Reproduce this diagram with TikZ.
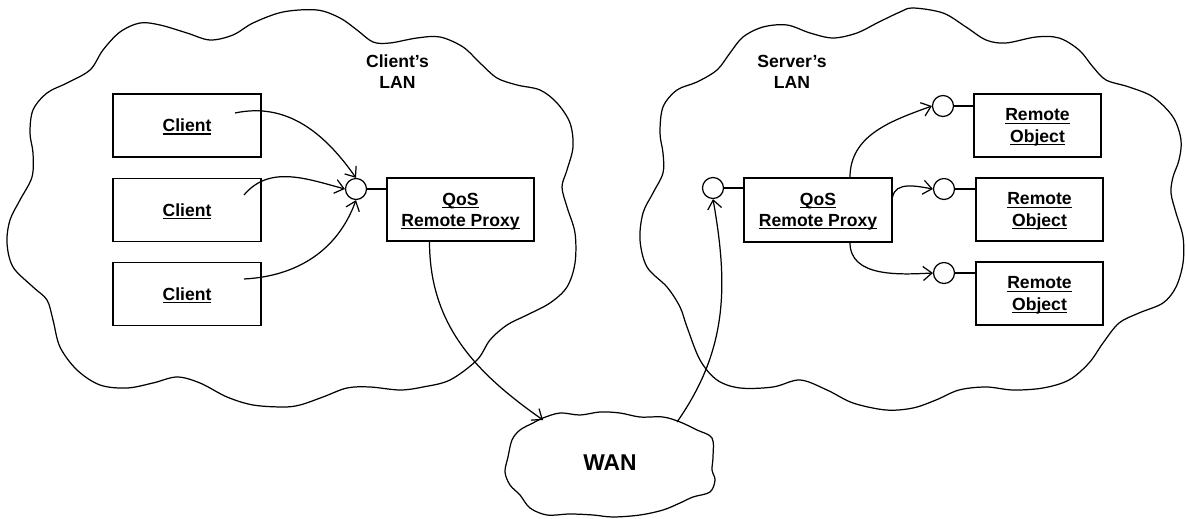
\documentclass[tikz,border=0pt]{standalone}
\usepackage{fontspec}
\setmainfont{Liberation Sans}
\usetikzlibrary{arrows.meta}
% underlined label text with a fixed rule below the baseline
\newcommand\ulin[1]{\leavevmode\setbox0\hbox{#1}\rlap{\copy0}\rule[-1.6pt]{\wd0}{0.7pt}}
\tikzset{
  box/.style={draw, line width=0.7pt, rectangle, inner sep=0pt, minimum height=1.26cm,
              align=center, font=\bfseries, text depth=0pt},
  port/.style={draw, circle, line width=0.7pt, minimum size=0.42cm, inner sep=0pt},
  link/.style={line width=0.7pt},
  flow/.style={line width=0.7pt, -{Straight Barb[length=5pt,width=8pt]}},
  cloudline/.style={line width=0.7pt, line join=round},
  lanlabel/.style={font=\bfseries, align=center}
}
\begin{document}
\begin{tikzpicture}[x=0.02cm, y=-0.02cm]
\useasboundingbox (0,0) rectangle (1186,519);

% client's LAN outline
\draw[cloudline] plot[smooth cycle, tension=0.55] coordinates {
 (103,50) (120,32) (140,23) (160,25) (187,33) (210,40) (233,35) (253,23) (283,12)
 (317,10) (340,18) (357,30) (373,42) (390,43) (417,38) (440,37) (463,47) (480,63)
 (497,78) (517,85) (540,90) (557,103) (570,123) (573,147) (567,170) (562,187)
 (567,207) (575,233) (575,263) (567,287) (550,303) (527,315) (507,325) (490,340)
 (477,360) (450,380) (423,387) (400,390) (370,387) (347,388) (323,397) (300,405)
 (283,407) (253,405) (227,397) (200,383) (177,377) (153,383) (127,388) (100,385)
 (77,370) (60,347) (53,320) (47,300) (33,287) (13,267) (7,243) (10,220) (20,200)
 (32,177) (33,153) (30,133) (33,110) (47,93) (67,83) (90,70)};

% server's LAN outline
\draw[cloudline] plot[smooth cycle, tension=0.55] coordinates {
 (663,107) (677,90) (697,82) (717,70) (730,53) (743,37) (763,27) (787,25) (810,33)
 (833,38) (857,33) (877,23) (900,12) (913,8) (943,13) (966,27) (986,40) (1006,43)
 (1036,37) (1059,38) (1079,50) (1093,67) (1106,80) (1129,87) (1153,97) (1173,117)
 (1181,140) (1179,160) (1173,177) (1171,193) (1176,213) (1183,237) (1183,263)
 (1176,287) (1163,303) (1139,313) (1119,323) (1103,343) (1089,363) (1069,380)
 (1043,388) (1013,390) (986,387) (959,390) (936,400) (913,408) (886,410) (853,403)
 (827,390) (800,380) (773,387) (740,388) (717,380) (700,360) (687,327) (680,307)
 (667,287) (647,267) (640,240) (643,213) (653,193) (663,173) (663,153) (660,133)};

% WAN outline
\draw[cloudline] plot[smooth cycle, tension=0.55] coordinates {
 (543,418) (560,413) (580,415) (600,412) (620,413) (640,417) (663,417) (680,422)
 (697,430) (712,438) (713,457) (712,470) (715,480) (710,492) (693,497) (680,503)
 (663,510) (640,515) (613,517) (593,515) (570,514) (547,515) (530,508) (520,495)
 (510,485) (505,472) (508,457) (512,440) (520,430) (533,423)};

% labels
\node[lanlabel] (clan) at (397.5,72) {Client’s\\LAN};
\node[lanlabel] (slan) at (792,72) {Server’s\\LAN};
\node[font=\bfseries\fontsize{13}{15}\selectfont] (wan) at (610,463) {WAN};

% client side
\node[box, minimum width=2.96cm] (cl1) at (187,125.5) {\ulin{Client}};
\node[box, minimum width=2.96cm] (cl2) at (187,210) {\ulin{Client}};
\node[box, minimum width=2.96cm] (cl3) at (187,294) {\ulin{Client}};
\node[box, minimum width=2.94cm] (cproxy) at (460.5,209.5) {\ulin{QoS}\\\ulin{Remote Proxy}};
\node[port] (cport) at (356,189) {};
\draw[link] (cport.east) -- (cport.east -| cproxy.west);

% server side
\node[box, minimum width=2.96cm, minimum height=1.28cm] (sproxy) at (818,210) {\ulin{QoS}\\\ulin{Remote Proxy}};
\node[port] (sport) at (713,188) {};
\draw[link, line width=1.4pt] (sport.east) -- (sport.east -| sproxy.west);

\node[box, minimum width=2.54cm] (obj1) at (1037.5,125.5) {\ulin{Remote}\\\ulin{Object}};
\node[box, minimum width=2.54cm] (obj2) at (1039.5,209.5) {\ulin{Remote}\\\ulin{Object}};
\node[box, minimum width=2.54cm] (obj3) at (1039.5,293.5) {\ulin{Remote}\\\ulin{Object}};
\node[port] (op1) at (943,106) {};
\node[port] (op2) at (944,189) {};
\node[port] (op3) at (944,273) {};
\draw[link] (op1.east) -- (op1.east -| obj1.west);
\draw[link] (op2.east) -- (op2.east -| obj2.west);
\draw[link] (op3.east) -- (op3.east -| obj3.west);

% connector end points
\coordinate (c1s) at (235,113);
\coordinate (c2s) at (244,195);
\coordinate (c3s) at (244,279);
\coordinate (wanin) at (543,420);
\coordinate (wanout) at (677,422);

% client calls into the proxy port
\draw[flow] (c1s) to[out=12, in=125] (cport.north);
\draw[flow] (c2s) to[out=50, in=165] (cport.west);
\draw[flow] (c3s) to[out=3, in=-110] (cport.south);

% proxy to WAN to server proxy
\draw[flow] ([xshift=-0.62cm]cproxy.south) to[out=-90, in=145] (wanin);
\draw[flow] (wanout) to[out=55, in=-80] (sport.south);

% server proxy to remote objects
\draw[flow] ([xshift=0.64cm]sproxy.north) to[out=90, in=200] (op1.west);
\draw[flow] ([yshift=0.26cm]sproxy.east) to[out=80, in=170] (op2.west);
\draw[flow] ([xshift=0.64cm]sproxy.south) to[out=-90, in=183] (op3.west);
\end{tikzpicture}
\end{document}
